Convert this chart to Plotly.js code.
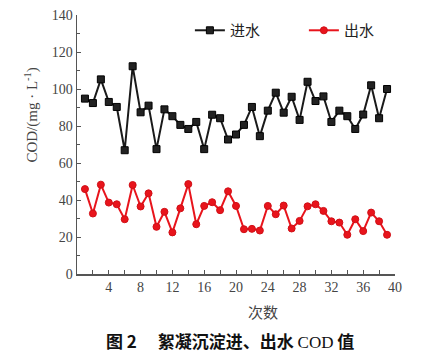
<!DOCTYPE html>
<html>
<head>
<meta charset="utf-8">
<script src="https://cdn.plot.ly/plotly-3.0.1.min.js"></script>
<style>html,body{margin:0;padding:0;background:#fff;}#chart{width:426px;height:357px;}</style>
</head>
<body>
<div id="chart"></div>
<script>
var runs = [1,2,3,4,5,6,7,8,9,10,11,12,13,14,15,16,17,18,19,20,21,22,23,24,25,26,27,28,29,30,31,32,33,34,35,36,37,38,39];
var influent = [94.8,92.4,105.2,93,90.3,66.9,112.3,87.4,91,67.5,89,85.3,80.6,78.4,82.2,67.5,86.1,84.2,72.7,75.4,80.6,90.3,74.5,88.3,98,87.2,95.8,83.3,103.9,93.5,96,82.2,88.3,85.3,78.4,86.2,102,84.2,100];
var effluent = [45.9,32.7,48.3,38.6,37.7,29.6,48.1,36.5,43.6,25.5,33.6,22.5,35.5,48.6,26.9,36.8,38.8,34.5,44.7,36.8,24.2,24.4,23.5,36.8,32.3,37,24.6,28.7,36.6,37.7,34.1,28.5,27.8,21.2,29.6,23.2,33.2,28.5,21.2];
var seriesNames = ['进水','出水'];
var xTicks = [4,8,12,16,20,24,28,32,36,40];
var yTicks = [0,20,40,60,80,100,120,140];
var xTitle = '次数';
var yTitle = 'COD/(mg · L<sup>-1</sup>)';
var caption = '图 2　 絮凝沉淀进、出水 <span style="font-family:Liberation Serif;font-weight:normal">COD</span> 值';

var serif = 'Liberation Serif, Times New Roman, serif';
var cjk = 'Noto Sans CJK SC, sans-serif';

var traces = [
  {x: runs, y: influent, name: seriesNames[0], type: 'scatter', mode: 'lines+markers',
   line: {color: '#1a1a1a', width: 2},
   marker: {symbol: 'square', size: 7, color: '#222', line: {color: '#000', width: 1}}},
  {x: runs, y: effluent, name: seriesNames[1], type: 'scatter', mode: 'lines+markers',
   line: {color: '#e8141c', width: 2},
   marker: {symbol: 'circle', size: 7, color: '#e8141c', line: {color: '#d10f16', width: 1}}}
];

var axisCommon = {
  showgrid: false, zeroline: false, showline: true, linecolor: '#555', linewidth: 1.5,
  ticks: 'inside', ticklen: 4, tickwidth: 1, tickcolor: '#555',
  tickfont: {family: serif, size: 14, color: '#444'}
};

var layout = {
  width: 426, height: 357,
  margin: {l: 77, r: 31, t: 15, b: 83, autoexpand: false},
  paper_bgcolor: '#fff', plot_bgcolor: '#fff',
  showlegend: true,
  legend: {orientation: 'h', x: 0.355, xanchor: 'left', y: 0.94, yanchor: 'middle',
    font: {family: cjk, size: 15, color: '#222'}, bgcolor: 'rgba(0,0,0,0)', itemwidth: 30,
    entrywidth: 69, entrywidthmode: 'pixels'},
  xaxis: Object.assign({}, axisCommon, {
    range: [0, 40], tickmode: 'array', tickvals: xTicks, ticktext: xTicks.map(String),
    minor: {dtick: 2, ticks: 'inside', ticklen: 4, tickcolor: '#555', tick0: 0}
  }),
  yaxis: Object.assign({}, axisCommon, {
    range: [0, 140], tickmode: 'array', tickvals: yTicks, ticktext: yTicks.map(String),
    minor: {dtick: 10, ticks: 'inside', ticklen: 3, tickcolor: '#555', tick0: 0}
  }),
  annotations: [
    {text: yTitle, xref: 'paper', yref: 'paper', x: -0.142, y: 0.615, xanchor: 'center', yanchor: 'middle',
     textangle: -90, showarrow: false, font: {family: serif, size: 15, color: '#444'}},
    {text: xTitle, xref: 'paper', yref: 'paper', x: 0.585, y: -0.145, xanchor: 'center', yanchor: 'middle',
     showarrow: false, font: {family: cjk, size: 15, color: '#444'}},
    {text: '<b>' + caption + '</b>', xref: 'paper', yref: 'paper', x: 0.48, y: -0.255, xanchor: 'center', yanchor: 'middle',
     showarrow: false, font: {family: cjk, size: 17, color: '#111'}}
  ]
};

Plotly.newPlot('chart', traces, layout, {displayModeBar: false, staticPlot: true});
</script>
</body>
</html>
